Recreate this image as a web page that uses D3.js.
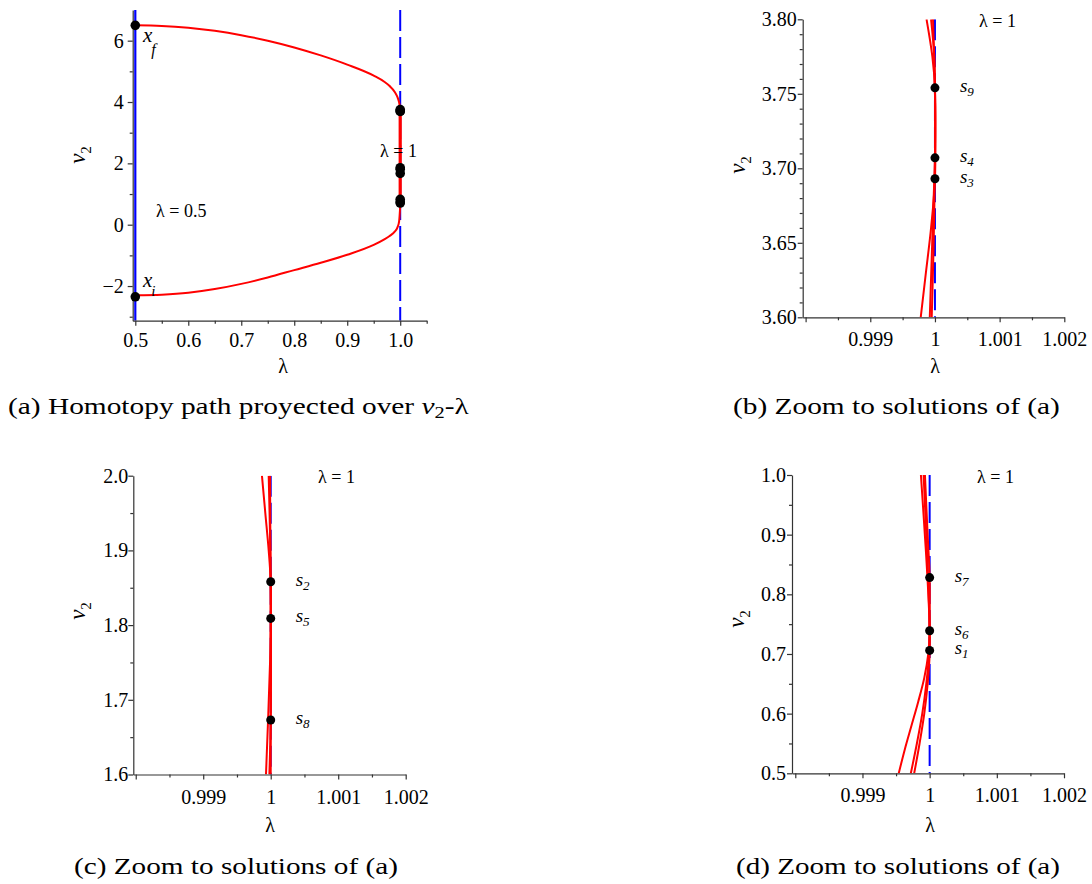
<!DOCTYPE html>
<html>
<head>
<meta charset="utf-8">
<script src="https://cdn.jsdelivr.net/npm/d3@7"></script>
<style>
  body { margin: 0; background: #fff; }
  svg text { font-family: "Liberation Serif", "Times New Roman", serif; }
</style>
</head>
<body>
<script>
// ---- data ----

// (a) homotopy path, v2 against lambda
const upperBranch = [[0.5,6.50],[0.55,6.48],[0.6,6.42],[0.65,6.32],[0.7,6.18],[0.75,6.00],[0.8,5.78],[0.85,5.52],[0.9,5.22],[0.95,4.86],[0.97,4.66],[0.98,4.52],[0.99,4.32],[0.995,4.15],[0.998,3.98],[1.0,3.76]];
const lowerBranch = [[0.5,-2.30],[0.55,-2.28],[0.6,-2.22],[0.65,-2.10],[0.7,-1.93],[0.75,-1.72],[0.8,-1.48],[0.85,-1.24],[0.9,-0.98],[0.95,-0.66],[0.97,-0.48],[0.98,-0.37],[0.99,-0.22],[0.995,-0.08],[0.998,0.12],[1.0,0.60]];
const lambdaOneSegment = [[1.0,3.76],[1.0,0.60]];

// start / end points of the path
const endLambda = [0.5, 0.5];
const endV2 = [6.5, -2.35];
const endSub = ["f", "i"];

// solutions at lambda = 1
const solV2 = [3.754, 3.707, 3.693, 1.858, 1.809, 1.673, 0.828, 0.739, 0.706];
const solIndex = [9, 4, 3, 2, 5, 8, 7, 6, 1];

// zoomed red paths near lambda = 1
const zoomBLines = [
  [[0.99987,3.80],[0.99996,3.775],[1.0,3.754],[1.0,3.707],[0.99998,3.68],[0.99995,3.64],[0.99992,3.60]],
  [[0.99994,3.80],[0.99999,3.775],[1.0,3.754],[1.0,3.693],[0.99994,3.66],[0.99986,3.63],[0.99978,3.60]],
  [[0.99997,3.80],[1.0,3.75],[1.0,3.707],[0.99998,3.65],[0.99995,3.60]]
];
const zoomCLines = [
  [[0.99987,2.0],[0.99992,1.95],[0.99997,1.90],[1.0,1.858],[1.0,1.809],[0.99999,1.75],[0.99993,1.60]],
  [[0.99997,2.0],[0.99999,1.92],[1.0,1.858],[1.0,1.673],[0.99998,1.60]],
  [[0.99999,2.0],[1.0,1.809],[1.0,1.673],[1.0,1.60]]
];
const zoomDLines = [
  [[0.99954,0.5],[0.99963,0.54],[0.99973,0.58],[0.99983,0.62],[0.99992,0.66],[0.99998,0.70],[1.0,0.735],[0.99998,0.80],[0.99994,0.88],[0.99987,1.0]],
  [[0.99972,0.5],[0.99981,0.55],[0.99989,0.60],[0.99995,0.65],[0.99999,0.70],[1.0,0.76],[1.0,0.83],[0.99997,0.90],[0.99993,1.0]],
  [[0.99977,0.5],[0.99985,0.55],[0.99992,0.60],[0.99997,0.65],[1.0,0.70],[1.0,0.74],[0.99998,0.82],[0.99995,0.90],[0.99991,1.0]]
];

// ticks
const aXMajor = [0.5, 0.6, 0.7, 0.8, 0.9, 1.0];
const aXMinor = [0.55, 0.65, 0.75, 0.85, 0.95, 1.05];
const aYMajor = [-2, 0, 2, 4, 6];
const aYMinor = [-3, -1, 1, 3, 5];
const zoomXMajor = [0.998, 0.999, 1, 1.001, 1.002];
const zoomXMinor = [0.9985, 0.9995, 1.0005, 1.0015];
const bYMajor = [3.60, 3.65, 3.70, 3.75, 3.80];
const bYMinor = [3.61, 3.62, 3.63, 3.64, 3.66, 3.67, 3.68, 3.69, 3.71, 3.72, 3.73, 3.74, 3.76, 3.77, 3.78, 3.79];
const cYMajor = [1.6, 1.7, 1.8, 1.9, 2.0];
const cYMinor = [1.65, 1.75, 1.85, 1.95];
const dYMajor = [0.5, 0.6, 0.7, 0.8, 0.9, 1.0];
const dYMinor = [0.55, 0.65, 0.75, 0.85, 0.95];

const captions = ["(a) Homotopy path proyected over ", "(b) Zoom to solutions of (a)", "(c) Zoom to solutions of (a)", "(d) Zoom to solutions of (a)"];

// ---- drawing ----
const RED = "#ff0000", BLUE = "#0000ff", AXIS = "#333";
const svg = d3.select("body").append("svg").attr("width", 1092).attr("height", 884);

function drawAxes(g, x, y, o) {
  const xa = g.append("g").attr("transform", `translate(0,${o.bottom})`)
    .call(d3.axisBottom(x).tickValues(o.xMajor).tickFormat(o.xFmt).tickSize(5).tickSizeOuter(0).tickPadding(o.xPad));
  g.append("g").attr("transform", `translate(0,${o.bottom})`)
    .call(d3.axisBottom(x).tickValues(o.xMinor).tickFormat(() => "").tickSize(3).tickSizeOuter(0))
    .select(".domain").remove();
  const ya = g.append("g").attr("transform", `translate(${o.left},0)`)
    .call(d3.axisLeft(y).tickValues(o.yMajor).tickFormat(o.yFmt).tickSize(5).tickSizeOuter(0).tickPadding(o.yPad));
  g.append("g").attr("transform", `translate(${o.left},0)`)
    .call(d3.axisLeft(y).tickValues(o.yMinor).tickFormat(() => "").tickSize(3).tickSizeOuter(0))
    .select(".domain").remove();
  g.selectAll(".domain, .tick line").attr("stroke", AXIS).attr("stroke-width", 1.2);
  [xa, ya].forEach(a => a.attr("font-family", '"Liberation Serif", serif').attr("font-size", 20));
  g.selectAll(".tick text").attr("fill", "#000");

  // axis titles
  g.append("text").attr("x", o.lamX).attr("y", o.lamY).attr("text-anchor", "middle")
    .attr("font-size", 20).text("λ");
  const v = g.append("text").attr("transform", `translate(${o.vX},${o.vY}) rotate(-90)`)
    .attr("text-anchor", "middle");
  v.append("tspan").attr("font-style", "italic").attr("font-size", 23).text("v");
  v.append("tspan").attr("font-size", 15).attr("dy", 6).text("2");
}

function label(g, xp, yp, name, sub, size, subSize, subDx, subDy) {
  const t = g.append("text").attr("x", xp).attr("y", yp).attr("font-style", "italic");
  t.append("tspan").attr("font-size", size).text(name);
  t.append("tspan").attr("font-size", subSize).attr("dx", subDx).attr("dy", subDy).text(sub);
}

function clip(id, o) {
  svg.append("clipPath").attr("id", id).append("rect")
    .attr("x", o.left).attr("y", o.top).attr("width", o.right - o.left).attr("height", o.bottom - o.top);
}

// ---------- panel (a) ----------
{
  const o = { left: 132.7, right: 426.7, top: 10, bottom: 320.7,
    xMajor: aXMajor, xMinor: aXMinor, yMajor: aYMajor, yMinor: aYMinor,
    xFmt: d3.format(".1f"), yFmt: d3.format("d"), xPad: 7, yPad: 4,
    lamX: 283, lamY: 373, vX: 85, vY: 155 };
  const x = d3.scaleLinear().domain([0.4951, 1.05]).range([o.left, o.right]);
  const y = d3.scaleLinear().domain([-3.13, 7.0]).range([o.bottom, o.top]);
  const g = svg.append("g");
  clip("clipA", o);
  const pg = g.append("g").attr("clip-path", "url(#clipA)");

  pg.append("line").attr("x1", x(0.5)).attr("x2", x(0.5)).attr("y1", o.top).attr("y2", o.bottom)
    .attr("stroke", BLUE).attr("stroke-width", 2.2);
  pg.append("line").attr("x1", x(1)).attr("x2", x(1)).attr("y1", o.top).attr("y2", o.bottom)
    .attr("stroke", BLUE).attr("stroke-width", 2).attr("stroke-dasharray", "21,6");

  const line = d3.line().x(d => x(d[0])).y(d => y(d[1])).curve(d3.curveMonotoneX);
  [upperBranch, lowerBranch].forEach(b =>
    pg.append("path").attr("d", line(b)).attr("fill", "none").attr("stroke", RED).attr("stroke-width", 2));
  pg.append("path").attr("d", d3.line().x(d => x(d[0])).y(d => y(d[1]))(lambdaOneSegment))
    .attr("fill", "none").attr("stroke", RED).attr("stroke-width", 3.2);

  drawAxes(g, x, y, o);

  g.selectAll("circle.sol").data(solV2).join("circle").attr("class", "sol")
    .attr("cx", x(1)).attr("cy", d => y(d)).attr("r", 4.8).attr("fill", "#000");
  g.selectAll("circle.end").data(endV2).join("circle").attr("class", "end")
    .attr("cx", (d, i) => x(endLambda[i])).attr("cy", d => y(d)).attr("r", 4.8).attr("fill", "#000");

  label(g, 143, y(endV2[0]) + 17, "x", endSub[0], 21, 16, -1, 13);
  label(g, 143, y(endV2[1]) - 10, "x", endSub[1], 21, 15, -1, 9);

  g.append("text").attr("x", 380).attr("y", 157).attr("font-size", 18).text("λ = 1");
  g.append("text").attr("x", 156).attr("y", 217).attr("font-size", 18).text("λ = 0.5");
}

// ---------- zoom panels ----------
function zoomPanel(id, o, yDom, lines, sols) {
  const x = d3.scaleLinear().domain([o.xLeft, 1.002]).range([o.left, o.right]);
  const y = d3.scaleLinear().domain(yDom).range([o.bottom, o.top]);
  const g = svg.append("g");
  clip(id, o);
  const pg = g.append("g").attr("clip-path", `url(#${id})`);

  pg.append("line").attr("x1", x(1)).attr("x2", x(1)).attr("y1", o.top).attr("y2", o.bottom)
    .attr("stroke", BLUE).attr("stroke-width", 2).attr("stroke-dasharray", "21,6");
  const line = d3.line().x(d => x(d[0])).y(d => y(d[1])).curve(d3.curveCatmullRom.alpha(0.5));
  lines.forEach(l =>
    pg.append("path").attr("d", line(l)).attr("fill", "none").attr("stroke", RED).attr("stroke-width", 2));

  drawAxes(g, x, y, o);

  g.selectAll("circle.sol").data(sols).join("circle").attr("class", "sol")
    .attr("cx", x(1)).attr("cy", d => y(solV2[d])).attr("r", 4.5).attr("fill", "#000");
  sols.forEach(i => label(g, x(1) + 25, y(solV2[i]) + 4, "s", String(solIndex[i]), 19, 13, 0, 4));

  g.append("text").attr("x", o.eqX).attr("y", o.eqY).attr("font-size", 18).text("λ = 1");
}

const zoomFmt = d => d === 0.998 ? "" : (d === 1 ? "1" : d3.format(".3f")(d));

zoomPanel("clipB", { left: 802.7, right: 1064.3, top: 19.3, bottom: 317.3, xLeft: 0.997955,
  xMajor: zoomXMajor, xMinor: zoomXMinor, yMajor: bYMajor, yMinor: bYMinor,
  xFmt: zoomFmt, yFmt: d3.format(".2f"), xPad: 10, yPad: 1,
  lamX: 935, lamY: 373, vX: 745, vY: 165, eqX: 979, eqY: 27 }, [3.6, 3.8], zoomBLines, [0, 1, 2]);

zoomPanel("clipC", { left: 133.3, right: 405.7, top: 475.7, bottom: 774.5, xLeft: 0.997964,
  xMajor: zoomXMajor, xMinor: zoomXMinor, yMajor: cYMajor, yMinor: cYMinor,
  xFmt: zoomFmt, yFmt: d3.format(".1f"), xPad: 10, yPad: 0,
  lamX: 270, lamY: 832, vX: 85, vY: 611, eqX: 318, eqY: 483 }, [1.6, 2.0], zoomCLines, [3, 4, 5]);

zoomPanel("clipD", { left: 792, right: 1064, top: 475, bottom: 773.3, xLeft: 0.997951,
  xMajor: zoomXMajor, xMinor: zoomXMinor, yMajor: dYMajor, yMinor: dYMinor,
  xFmt: zoomFmt, yFmt: d3.format(".1f"), xPad: 10, yPad: 1,
  lamX: 930, lamY: 832, vX: 744, vY: 619, eqX: 977, eqY: 483 }, [0.5, 1.0], zoomDLines, [6, 7, 8]);

// ---------- captions (stretched to the width of the original) ----------
const capPos = [[8, 413.7, 462], [733, 413.7, 327], [74, 873.7, 324], [736, 873.7, 324]];
captions.forEach((c, i) => {
  const t = svg.append("text").attr("font-size", 23);
  t.append("tspan").text(c);
  if (i === 0) {
    t.append("tspan").attr("font-style", "italic").text("v");
    t.append("tspan").attr("font-size", 16).attr("dy", 4).text("2");
    t.append("tspan").attr("dy", -4).text("-λ");
  }
  const w = t.node().getBBox().width;
  const [cx, cy, tw] = capPos[i];
  t.attr("transform", `translate(${cx},${cy}) scale(${tw / w},1)`);
});
</script>
</body>
</html>
